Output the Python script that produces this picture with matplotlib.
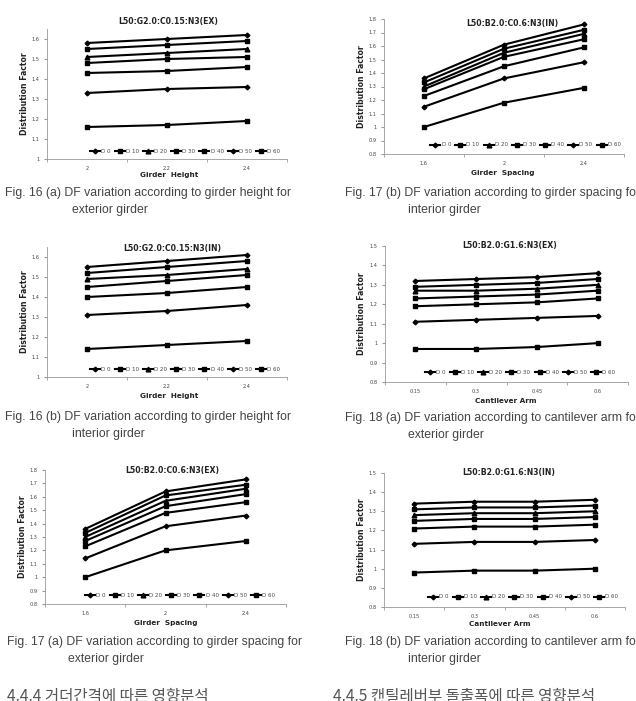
import numpy as np
import matplotlib
matplotlib.use('Agg')
import matplotlib.pyplot as plt

W, H = 636, 701

# series / categories
series_names = ['D 0', 'D 10', 'D 20', 'D 30', 'D 40', 'D 50', 'D 60']
series_markers = ['D', 's', '^', 's', 's', 'D', 's']

girder_height = ['2', '2.2', '2.4']
girder_spacing = ['1.6', '2', '2.4']
cantilever_arm = ['0.15', '0.3', '0.45', '0.6']

# Fig. 16 (a) exterior, girder height
df_16a = [[1.58, 1.60, 1.62],
          [1.55, 1.57, 1.59],
          [1.51, 1.53, 1.55],
          [1.48, 1.50, 1.51],
          [1.43, 1.44, 1.46],
          [1.33, 1.35, 1.36],
          [1.16, 1.17, 1.19]]

# Fig. 16 (b) interior, girder height
df_16b = [[1.55, 1.58, 1.61],
          [1.52, 1.55, 1.58],
          [1.49, 1.51, 1.54],
          [1.45, 1.48, 1.51],
          [1.40, 1.42, 1.45],
          [1.31, 1.33, 1.36],
          [1.14, 1.16, 1.18]]

# Fig. 17 (a) exterior, girder spacing
df_17a = [[1.36, 1.64, 1.73],
          [1.33, 1.61, 1.69],
          [1.30, 1.57, 1.66],
          [1.27, 1.53, 1.62],
          [1.23, 1.48, 1.56],
          [1.14, 1.38, 1.46],
          [1.00, 1.20, 1.27]]

# Fig. 17 (b) interior, girder spacing
df_17b = [[1.36, 1.61, 1.76],
          [1.33, 1.58, 1.72],
          [1.30, 1.55, 1.69],
          [1.28, 1.52, 1.65],
          [1.23, 1.45, 1.59],
          [1.15, 1.36, 1.48],
          [1.00, 1.18, 1.29]]

# Fig. 18 (a) exterior, cantilever arm
df_18a = [[1.32, 1.33, 1.34, 1.36],
          [1.29, 1.30, 1.31, 1.33],
          [1.27, 1.27, 1.28, 1.30],
          [1.23, 1.24, 1.25, 1.27],
          [1.19, 1.20, 1.21, 1.23],
          [1.11, 1.12, 1.13, 1.14],
          [0.97, 0.97, 0.98, 1.00]]

# Fig. 18 (b) interior, cantilever arm
df_18b = [[1.34, 1.35, 1.35, 1.36],
          [1.31, 1.32, 1.32, 1.33],
          [1.28, 1.29, 1.29, 1.30],
          [1.25, 1.26, 1.26, 1.27],
          [1.21, 1.22, 1.22, 1.23],
          [1.13, 1.14, 1.14, 1.15],
          [0.98, 0.99, 0.99, 1.00]]

fig = plt.figure(figsize=(W / 100, H / 100), dpi=100)
fig.patch.set_facecolor('white')


def px_rect(x0, x1, ytop, ybot):
    return [x0 / W, 1 - ybot / H, (x1 - x0) / W, (ybot - ytop) / H]


def draw_panel(rect, cats, data, ylim, title, title_xy, xlabel, xlabel_xy, leg_xy):
    ax = fig.add_axes(rect)
    x = np.arange(len(cats))
    for vals, name, mk in zip(data, series_names, series_markers):
        ms = 2.4 if mk == 'D' else 3.4
        ax.plot(x, vals, color='black', lw=1.5, marker=mk, ms=ms, label=name)
    ax.set_xlim(-0.5, len(cats) - 0.5)
    ax.set_ylim(*ylim)
    yt = np.round(np.arange(ylim[0], ylim[1] + 0.001, 0.1), 1)
    yt = yt[yt <= ylim[1] + 1e-9]
    ax.set_yticks(yt)
    ax.set_yticklabels(['%g' % v for v in yt])
    ax.set_xticks(x)
    ax.set_xticklabels(cats)
    ax.set_xticks(np.arange(-0.5, len(cats), 1.0), minor=True)
    ax.tick_params(axis='x', which='major', length=0, pad=5, labelsize=3.6, labelcolor='#444')
    ax.tick_params(axis='x', which='minor', length=2.5, color='#999', direction='out')
    ax.tick_params(axis='y', length=2.5, color='#999', labelsize=3.6, labelcolor='#444', pad=3)
    for s in ['top', 'right']:
        ax.spines[s].set_visible(False)
    for s in ['left', 'bottom']:
        ax.spines[s].set_color('#999')
        ax.spines[s].set_linewidth(0.6)
    ax.text(title_xy[0], title_xy[1], title, transform=ax.transAxes, ha='center', va='center',
            fontsize=5.6, fontweight='bold', color='#222')
    ax.text(xlabel_xy[0], xlabel_xy[1], xlabel, transform=ax.transAxes, ha='center', va='center',
            fontsize=5.2, fontweight='bold', color='#222')
    ax.text(-0.095, 0.5, 'Distribution Factor', transform=ax.transAxes, ha='center', va='center',
            rotation=90, fontsize=5.6, fontweight='bold', color='#222')
    ax.legend(ncol=7, loc='center', bbox_to_anchor=leg_xy, frameon=False, fontsize=4.0,
              handlelength=1.8, handletextpad=0.2, columnspacing=0.75, borderpad=0,
              labelcolor='#444')
    return ax


draw_panel(px_rect(47, 287, 29, 159), girder_height, df_16a, (1.0, 1.65),
           'L50:G2.0:C0.15:N3(EX)', (0.504, 1.054), 'Girder  Height', (0.508, -0.123), (0.575, 0.06))
draw_panel(px_rect(384, 624, 19, 154), girder_spacing, df_17b, (0.8, 1.8),
           'L50:B2.0:C0.6:N3(IN)', (0.533, 0.97), 'Girder  Spacing', (0.496, -0.14), (0.59, 0.067))
draw_panel(px_rect(47, 287, 247, 377), girder_height, df_16b, (1.0, 1.65),
           'L50:G2.0:C0.15:N3(IN)', (0.52, 0.99), 'Girder  Height', (0.508, -0.146), (0.575, 0.06))
draw_panel(px_rect(385, 628, 246, 382), cantilever_arm, df_18a, (0.8, 1.5),
           'L50:B2.0:G1.6:N3(EX)', (0.514, 1.007), 'Cantilever Arm', (0.498, -0.14), (0.556, 0.07))
draw_panel(px_rect(45, 286, 470, 604), girder_spacing, df_17a, (0.8, 1.8),
           'L50:B2.0:C0.6:N3(EX)', (0.527, 1.0), 'Girder  Spacing', (0.5, -0.142), (0.56, 0.067))
draw_panel(px_rect(384, 625, 473, 607), cantilever_arm, df_18b, (0.8, 1.5),
           'L50:B2.0:G1.6:N3(IN)', (0.519, 1.0), 'Cantilever Arm', (0.48, -0.127), (0.577, 0.075))


def caption(x, y, s):
    fig.text(x / W, 1 - y / H, s, ha='left', va='center', fontsize=8.8, color='#444',
             family=['Liberation Sans', 'DejaVu Sans'])


caps = [
    (5, 193, 'Fig. 16 (a) DF variation according to girder height for', 72, 'exterior girder'),
    (345, 193, 'Fig. 17 (b) DF variation according to girder spacing for', 408, 'interior girder'),
    (5, 417, 'Fig. 16 (b) DF variation according to girder height for', 72, 'interior girder'),
    (345, 418, 'Fig. 18 (a) DF variation according to cantilever arm for', 408, 'exterior girder'),
    (7, 642, 'Fig. 17 (a) DF variation according to girder spacing for', 68, 'exterior girder'),
    (345, 642, 'Fig. 18 (b) DF variation according to cantilever arm for', 408, 'interior girder'),
]
for x1, y1, s1, x2, s2 in caps:
    caption(x1, y1, s1)
    caption(x2, y1 + 17, s2)

fig.text(7 / W, 1 - 696 / H, '4.4.4 거더간격에 따른 영향분석', ha='left', va='center',
         fontsize=11.2, color='#555', family=['Noto Sans CJK KR', 'DejaVu Sans'])
fig.text(333 / W, 1 - 696 / H, '4.4.5 캔틸레버부 돌출폭에 따른 영향분석', ha='left', va='center',
         fontsize=11.2, color='#555', family=['Noto Sans CJK KR', 'DejaVu Sans'])

fig.savefig('out.png', dpi=100, facecolor='white')
